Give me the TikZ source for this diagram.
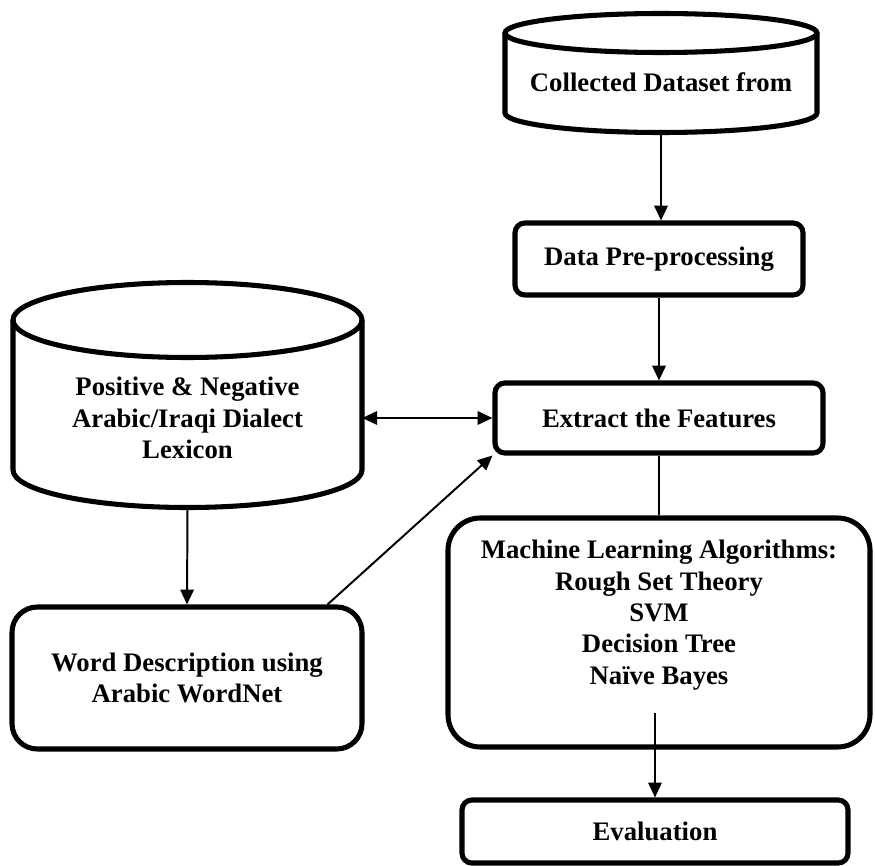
\documentclass[tikz,border=0pt]{standalone}
\usepackage{fontspec}
\setmainfont{Liberation Serif}
\usetikzlibrary{arrows.meta}

\def\px{0.025cm}

\begin{document}
\begin{tikzpicture}[x=0.025cm, y=-0.025cm,
    procbox/.style={draw, line width=3.6pt, rounded corners=#1, align=center, inner sep=0pt},
    procbox/.default=7pt,
    cyl/.style={line width=3.6pt},
    arr/.style={line width=1.4pt, -{Triangle[length=10.5pt, width=9.5pt]}},
    every node/.style={font=\bfseries\fontsize{19}{22.3}\selectfont}]

  \useasboundingbox (0,0) rectangle (875,866);

	%cylinders: centre x / half width / rim y / bottom y / ellipse radius
    \foreach \cx/\rx/\ty/\by/\ry in {661/156/33/113/19.5, 187.5/174.5/320/470/37.5}{
       \draw[cyl] (\cx,\ty) ellipse [x radius=\rx*\px, y radius=\ry*\px];
       \draw[cyl] (\cx-\rx,\ty) -- (\cx-\rx,\by) arc[start angle=180, end angle=360, x radius=\rx*\px, y radius=\ry*\px] -- (\cx+\rx,\ty);
    }

	%text of the cylinders
  \node[minimum width=312*\px, minimum height=102*\px, inner sep=0pt] (data) at (661,82) {Collected Dataset from};
  \node[minimum width=349*\px, minimum height=178*\px, inner sep=0pt, align=center] (lex) at (187.5,418) {Positive \& Negative\\Arabic/Iraqi Dialect\\Lexicon};

	%boxes
  \node[procbox, minimum width=288*\px, minimum height=72*\px] (prep) at (659,259) {Data Pre-processing};
  \node[procbox, minimum width=328*\px, minimum height=70*\px] (extract) at (659,418) {Extract the Features};
  \node[procbox=23pt, minimum width=422*\px, minimum height=229*\px] (ml) at (659,632.5) {Machine Learning Algorithms:\\Rough Set Theory\\SVM\\Decision Tree\\Naïve Bayes\\ \strut};
  \node[procbox=18pt, minimum width=350*\px, minimum height=142*\px] (word) at (187,678) {Word Description using\\Arabic WordNet};
  \node[procbox, minimum width=386*\px, minimum height=63*\px] (eval) at (655,831.5) {Evaluation};
  \coordinate (mlout) at (655,713);

	%arrows
  \draw[arr] (data.south) -- (data.south |- prep.north);
  \draw[arr] (prep.south) -- (extract.north);
  \draw[line width=1.4pt, {Triangle[length=10.5pt, width=9.5pt]}-{Triangle[length=10.5pt, width=9.5pt]}] (lex.east |- extract.west) -- (extract.west);
  \draw[arr] (lex.south) -- (word.north);
  \draw[arr] ([xshift=-37*\px]word.north east) -- (extract.south west);
  \draw[line width=1.4pt] (extract.south) -- (ml.north);
  \draw[arr] (mlout) -- (eval.north);

\end{tikzpicture}
\end{document}
